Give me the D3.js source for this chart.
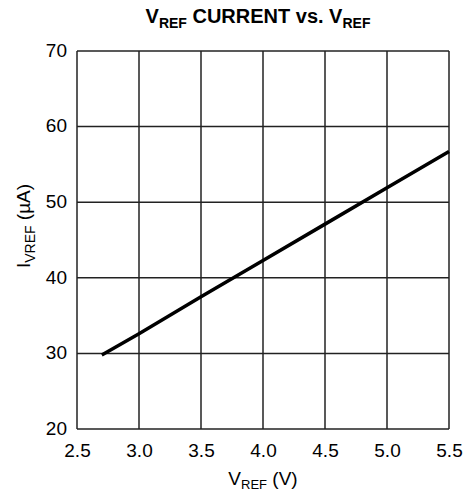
<!DOCTYPE html>
<html><head><meta charset="utf-8">
<script src="https://cdn.jsdelivr.net/npm/d3@7"></script>
<style>body{margin:0;background:#fff}text{font-family:"Liberation Sans",Arial,sans-serif}</style>
</head><body><svg id="c" width="471" height="494"></svg>
<script>
const vref = [2.7, 3.0, 3.5, 4.0, 4.5, 5.0, 5.5];
const iref = [29.8, 32.6, 37.5, 42.3, 47.1, 51.9, 56.7];
const xTicks = [2.5, 3.0, 3.5, 4.0, 4.5, 5.0, 5.5];
const yTicks = [20, 30, 40, 50, 60, 70];

const svg = d3.select("#c");
const m = {l:77, r:449, t:51, b:429};
const x = d3.scaleLinear().domain([2.5,5.5]).range([m.l,m.r]);
const y = d3.scaleLinear().domain([20,70]).range([m.b,m.t]);

const g = svg.append("g");
g.selectAll(".vx").data(xTicks).join("line")
  .attr("x1",d=>x(d)).attr("x2",d=>x(d)).attr("y1",m.t).attr("y2",m.b)
  .attr("stroke","#222").attr("stroke-width",1.5);
g.selectAll(".hy").data(yTicks).join("line")
  .attr("y1",d=>y(d)).attr("y2",d=>y(d)).attr("x1",m.l).attr("x2",m.r)
  .attr("stroke","#222").attr("stroke-width",1.5);

const xa = svg.append("g").attr("transform",`translate(0,${m.b})`)
  .call(d3.axisBottom(x).tickValues(xTicks).tickFormat(d3.format(".1f")).tickSize(0).tickPadding(0));
xa.select(".domain").remove();
xa.selectAll("text").attr("font-size",19).attr("fill","#000").attr("dy",null).attr("y",28);
const ya = svg.append("g").attr("transform",`translate(${m.l},0)`)
  .call(d3.axisLeft(y).tickValues(yTicks).tickSize(0).tickPadding(10));
ya.select(".domain").remove();
ya.selectAll("text").attr("font-size",19).attr("fill","#000").attr("dy","0.28em");

svg.append("path").datum(vref.map((v,i)=>[v,iref[i]]))
  .attr("d",d3.line().x(d=>x(d[0])).y(d=>y(d[1])))
  .attr("fill","none").attr("stroke","#000").attr("stroke-width",3.5);

const t = svg.append("text").attr("x",258).attr("y",23).attr("text-anchor","middle")
  .attr("font-size",20).attr("font-weight","bold");
t.append("tspan").text("V");
t.append("tspan").attr("font-size",14).attr("dy",5).text("REF");
t.append("tspan").attr("dy",-5).text(" CURRENT vs. V");
t.append("tspan").attr("font-size",14).attr("dy",5).text("REF");

const xl = svg.append("text").attr("x",263).attr("y",485).attr("text-anchor","middle").attr("font-size",19);
xl.append("tspan").text("V");
xl.append("tspan").attr("font-size",13).attr("dy",4).text("REF");
xl.append("tspan").attr("dy",-4).text(" (V)");

const yl = svg.append("text").attr("transform","translate(30,226) rotate(-90)").attr("text-anchor","middle").attr("font-size",19);
yl.append("tspan").text("I");
yl.append("tspan").attr("font-size",14).attr("dy",5).text("VREF");
yl.append("tspan").attr("dy",-5).text(" (µA)");
</script></body></html>
